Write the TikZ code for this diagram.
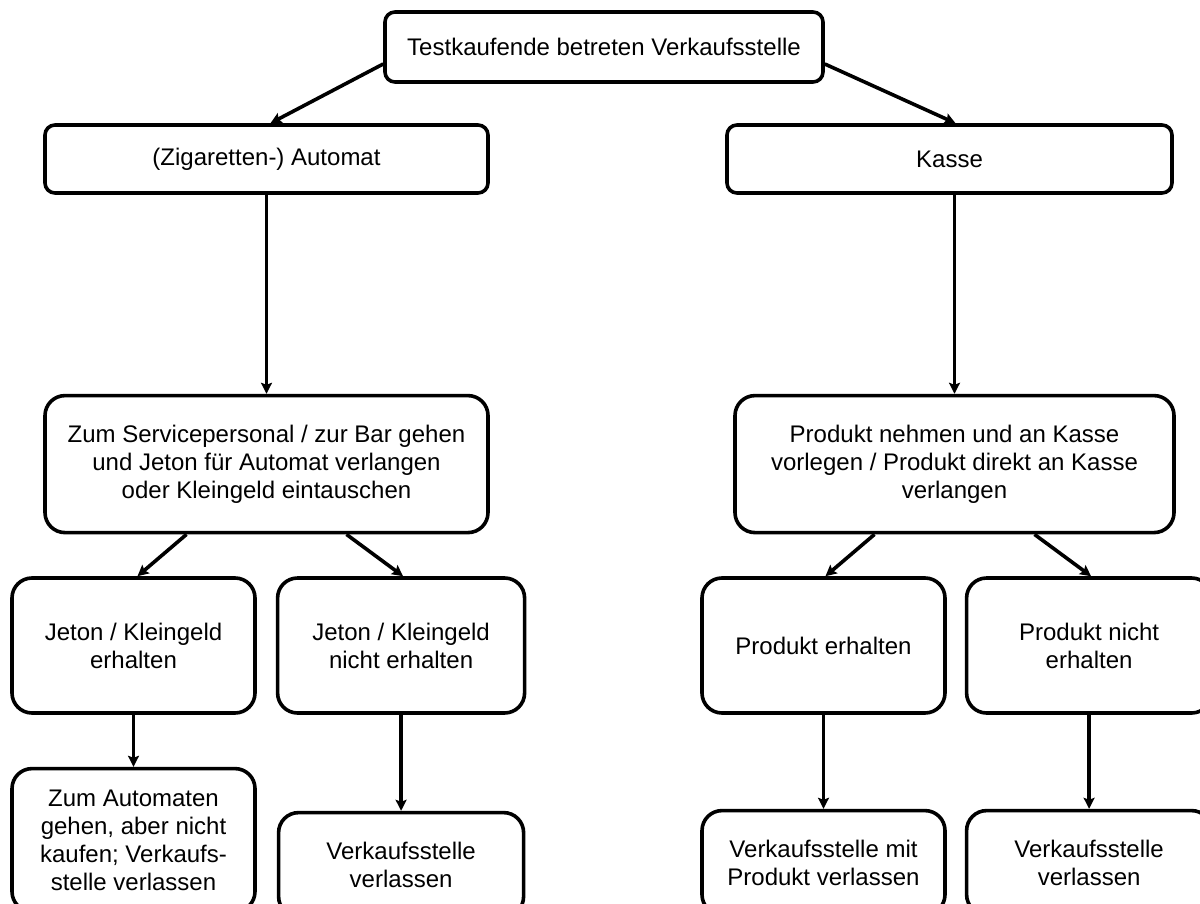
\documentclass[tikz,border=0pt]{standalone}
\usepackage{fontspec}
\setmainfont{Liberation Sans}
\usetikzlibrary{arrows.meta, positioning}

\begin{document}
\begin{tikzpicture}[
      x=0.5pt, y=-0.5pt,
      box/.style={draw=black, fill=white, rounded corners=10pt, line width=1.8pt,
                  minimum width=121.5pt, minimum height=67.5pt, inner xsep=3pt,
                  align=center, font=\fontsize{12}{14}\selectfont},
      widebox/.style={box, minimum width=221.5pt, minimum height=34pt, rounded corners=5pt},
      endbox/.style={box, minimum height=52pt},
      arrow/.style={-{Stealth[length=5.5pt, width=5.5pt, inset=1pt]}, line width=1.8pt},
  ]
    \useasboundingbox (0,0) rectangle (1200,904);

    \node[widebox, minimum width=219pt, minimum height=35pt] (enter) at (604,47)
          {Testkaufende betreten Verkaufsstelle};
    \node[widebox] (automat) at (266.5,159) {(Zigaretten-) Automat};
    \node[widebox, minimum width=222.5pt] (kasse) at (949.5,159) {Kasse};

    \node[widebox, minimum height=68.5pt, rounded corners=10pt, below=99.5pt of automat] (service)
          {Zum Servicepersonal / zur Bar gehen\\und Jeton für Automat verlangen\\oder Kleingeld eintauschen};
    \node[widebox, minimum width=219.5pt, minimum height=68.5pt, rounded corners=10pt,
          below=99.5pt of kasse, xshift=2.5pt] (vorlegen)
          {Produkt nehmen und an Kasse\\vorlegen / Produkt direkt an Kasse\\verlangen};

    \node[box] (jetonja) at (133.5,645.5) {Jeton / Kleingeld\\erhalten};
    \node[box, minimum width=123.5pt, right=9.5pt of jetonja] (jetonnein) {Jeton / Kleingeld\\nicht erhalten};
    \node[box] (produktja) at (823.5,645.5) {Produkt erhalten};
    \node[box, minimum width=122.5pt, right=9pt of produktja] (produktnein) {Produkt nicht\\erhalten};

    \node[box, minimum height=71.5pt, below=26pt of jetonja] (ohnekauf)
          {Zum Automaten\\gehen, aber nicht\\kaufen; Verkaufs-\\stelle verlassen};
    \node[endbox, minimum width=122.5pt, below=48pt of jetonnein] (gehen1) {Verkaufsstelle\\verlassen};
    \node[endbox, below=47pt of produktja] (mitprodukt) {Verkaufsstelle mit\\Produkt verlassen};
    \node[endbox, minimum width=122.5pt, below=47pt of produktnein] (gehen2) {Verkaufsstelle\\verlassen};

    \draw[arrow] ([yshift=-8.5pt]enter.west) -- ([xshift=2pt]automat.north);
    \draw[arrow] ([yshift=-8.5pt]enter.east) -- ([xshift=3pt]kasse.north);
    \draw[arrow] (automat) -- (service);
    \draw[arrow] (kasse.south -| vorlegen) -- (vorlegen);
    \draw[arrow] ([xshift=-40pt]service.south) -- ([xshift=2pt]jetonja.north);
    \draw[arrow] ([xshift=40pt]service.south) -- ([xshift=1pt]jetonnein.north);
    \draw[arrow] ([xshift=-40pt]vorlegen.south) -- ([xshift=1pt]produktja.north);
    \draw[arrow] ([xshift=40pt]vorlegen.south) -- ([xshift=1pt]produktnein.north);
    \draw[arrow] (jetonja) -- (ohnekauf);
    \draw[arrow] (jetonnein) -- (gehen1);
    \draw[arrow] (produktja) -- (mitprodukt);
    \draw[arrow] (produktnein) -- (gehen2);

  \end{tikzpicture}
\end{document}
